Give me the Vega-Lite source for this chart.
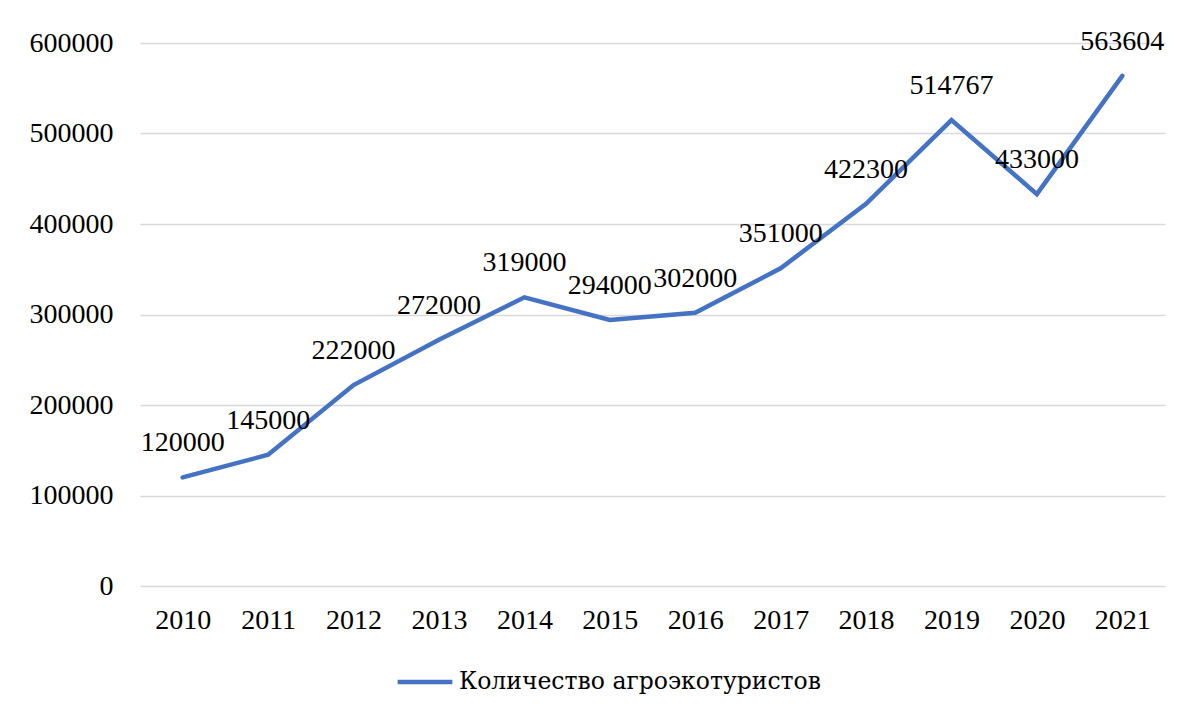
{
  "$schema": "https://vega.github.io/schema/vega-lite/v6.json",
  "autosize": "none",
  "width": 1025,
  "height": 543,
  "padding": {"left": 140, "top": 43, "right": 17, "bottom": 125},
  "background": "white",
  "config": {
    "view": {"stroke": null},
    "font": "Liberation Serif",
    "axis": {"labelFont": "Liberation Serif", "labelFontSize": 28, "labelColor": "#000000"},
    "legend": {"labelFont": "Liberation Serif", "labelFontSize": 28, "labelColor": "#000000"}
  },
  "data": {
    "values": [
      {"year": "2010", "value": 120000, "series": "Количество агроэкотуристов"},
      {"year": "2011", "value": 145000, "series": "Количество агроэкотуристов"},
      {"year": "2012", "value": 222000, "series": "Количество агроэкотуристов"},
      {"year": "2013", "value": 272000, "series": "Количество агроэкотуристов"},
      {"year": "2014", "value": 319000, "series": "Количество агроэкотуристов"},
      {"year": "2015", "value": 294000, "series": "Количество агроэкотуристов"},
      {"year": "2016", "value": 302000, "series": "Количество агроэкотуристов"},
      {"year": "2017", "value": 351000, "series": "Количество агроэкотуристов"},
      {"year": "2018", "value": 422300, "series": "Количество агроэкотуристов"},
      {"year": "2019", "value": 514767, "series": "Количество агроэкотуристов"},
      {"year": "2020", "value": 433000, "series": "Количество агроэкотуристов"},
      {"year": "2021", "value": 563604, "series": "Количество агроэкотуристов"}
    ]
  },
  "encoding": {
    "x": {
      "field": "year", "type": "ordinal",
      "scale": {"type": "point", "padding": 0.5},
      "axis": {"title": null, "labelAngle": 0, "domain": false, "ticks": false, "labelPadding": 20, "grid": false}
    },
    "y": {
      "field": "value", "type": "quantitative",
      "scale": {"domain": [0, 600000], "nice": false},
      "axis": {"title": null, "values": [0, 100000, 200000, 300000, 400000, 500000, 600000], "format": "d", "labelOverlap": false, "domain": false, "ticks": false, "labelPadding": 27, "grid": true, "gridColor": "#d9d9d9", "gridWidth": 1.3}
    }
  },
  "layer": [
    {
      "mark": {"type": "line", "strokeWidth": 4.5, "strokeCap": "round", "strokeJoin": "miter"},
      "encoding": {
        "color": {
          "field": "series", "type": "nominal",
          "scale": {"range": ["#4472C4"]},
          "legend": {
            "title": null, "orient": "none", "legendX": 255, "legendY": 609,
            "symbolType": "stroke", "symbolSize": 3000, "symbolStrokeWidth": 4.5,
            "labelOffset": 4, "symbolOffset": 0, "labelLimit": 0,
            "labelFont": "DejaVu Serif", "labelFontSize": 23.5, "labelColor": "#000000"
          }
        }
      }
    },
    {
      "mark": {"type": "text", "dy": -34, "baseline": "middle", "align": "center", "fontSize": 28, "font": "Liberation Serif", "color": "#000000"},
      "encoding": {"text": {"field": "value", "type": "quantitative", "format": "d"}}
    }
  ]
}
